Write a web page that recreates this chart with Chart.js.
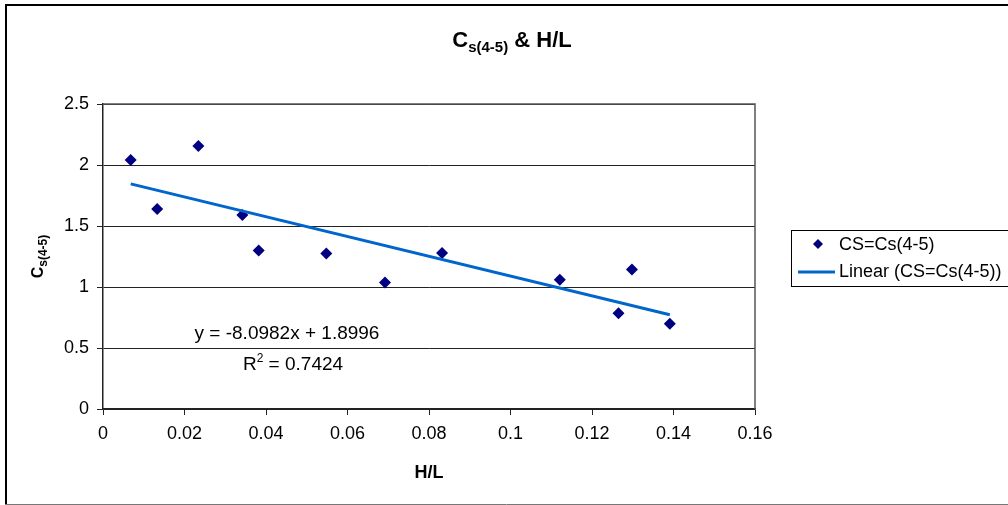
<!DOCTYPE html>
<html>
<head>
<meta charset="utf-8">
<script src="https://cdn.jsdelivr.net/npm/chart.js@4.4.1/dist/chart.umd.min.js"></script>
<style>
  html, body { margin: 0; padding: 0; background: #fff; }
</style>
</head>
<body>
<canvas id="cs-chart" width="1008" height="505"></canvas>
<script>
// values
const hlValues = [0.0068, 0.0133, 0.0234, 0.0342, 0.0382, 0.0548, 0.0692, 0.0832, 0.1121, 0.1265, 0.1298, 0.1391];
const csValues = [2.04, 1.64, 2.155, 1.59, 1.30, 1.275, 1.036, 1.278, 1.06, 0.785, 1.144, 0.699];

// trendline end points (y = -8.0982x + 1.8996)
const trendX = [0.0068, 0.1391];
const trendY = [1.845, 0.773];

const seriesName = 'CS=Cs(4-5)';
const trendName = 'Linear (CS=Cs(4-5))';
const eqText = 'y = -8.0982x + 1.8996';
const r2Value = '0.7424';

const FONT = '"Liberation Sans", Arial, sans-serif';
const pointColor = '#000080';
const lineColor = 'rgb(0, 102, 204)';

// draws text pieces in a row, each with own font and vertical offset
function drawParts(ctx, parts, x, y, align) {
    let total = 0;
    parts.forEach(p => { ctx.font = p.font; p.w = ctx.measureText(p.t).width; total += p.w; });
    let cx = align === 'center' ? x - total / 2 : x;
    ctx.textAlign = 'left';
    ctx.textBaseline = 'alphabetic';
    parts.forEach(p => {
        ctx.font = p.font;
        ctx.fillText(p.t, cx, y + (p.dy || 0));
        cx += p.w;
    });
}

const decorPlugin = {
    id: 'decor',
    afterDraw(chart) {
        const ctx = chart.ctx;
        const { left, right, top, bottom } = chart.chartArea;
        ctx.save();

        // plot area border (top + right)
        ctx.strokeStyle = '#555';
        ctx.lineWidth = 1.5;
        ctx.beginPath();
        ctx.moveTo(left, top);
        ctx.lineTo(right, top);
        ctx.lineTo(right, bottom);
        ctx.stroke();

        // outer chart border
        ctx.strokeStyle = '#000';
        ctx.lineWidth = 2;
        ctx.beginPath();
        ctx.moveTo(6, 505);
        ctx.lineTo(6, 5);
        ctx.lineTo(1010, 5);
        ctx.stroke();
        ctx.strokeStyle = '#777';
        ctx.lineWidth = 1;
        ctx.beginPath();
        ctx.moveTo(5, 504.5);
        ctx.lineTo(1008, 504.5);
        ctx.stroke();

        ctx.fillStyle = '#000';

        // title
        drawParts(ctx, [
            { t: 'C', font: 'bold 22px ' + FONT },
            { t: 's(4-5)', font: 'bold 15px ' + FONT, dy: 5 },
            { t: ' & H/L', font: 'bold 22px ' + FONT }
        ], 512, 47, 'center');

        // x axis title
        ctx.font = 'bold 18px ' + FONT;
        ctx.textAlign = 'center';
        ctx.fillText('H/L', (left + right) / 2, 478);

        // y axis title (rotated)
        ctx.save();
        ctx.translate(43, (top + bottom) / 2);
        ctx.rotate(-Math.PI / 2);
        drawParts(ctx, [
            { t: 'C', font: 'bold 16px ' + FONT },
            { t: 's(4-5)', font: 'bold 12px ' + FONT, dy: 4 }
        ], 0, 0, 'center');
        ctx.restore();

        // trendline equation
        ctx.font = '19px ' + FONT;
        ctx.textAlign = 'center';
        ctx.textBaseline = 'alphabetic';
        ctx.fillText(eqText, 287, 339);
        drawParts(ctx, [
            { t: 'R', font: '19px ' + FONT },
            { t: '2', font: '12px ' + FONT, dy: -8 },
            { t: ' = ' + r2Value, font: '19px ' + FONT }
        ], 293, 370, 'center');

        // legend box
        ctx.strokeStyle = '#000';
        ctx.lineWidth = 1;
        ctx.strokeRect(791.5, 230.5, 240, 56);
        // diamond marker
        ctx.fillStyle = pointColor;
        ctx.beginPath();
        ctx.moveTo(818, 239);
        ctx.lineTo(823, 244);
        ctx.lineTo(818, 249);
        ctx.lineTo(813, 244);
        ctx.closePath();
        ctx.fill();
        // line sample
        ctx.strokeStyle = lineColor;
        ctx.lineWidth = 3;
        ctx.beginPath();
        ctx.moveTo(798, 272);
        ctx.lineTo(835, 272);
        ctx.stroke();
        ctx.fillStyle = '#000';
        ctx.font = '18px ' + FONT;
        ctx.textAlign = 'left';
        ctx.textBaseline = 'middle';
        ctx.fillText(seriesName, 839, 245);
        ctx.fillText(trendName, 839, 272);

        ctx.restore();
    }
};

const fmt = v => String(+Number(v).toFixed(2));

new Chart(document.getElementById('cs-chart'), {
    type: 'scatter',
    data: {
        datasets: [
            {
                label: trendName,
                data: trendX.map((x, i) => ({ x: x, y: trendY[i] })),
                showLine: true,
                borderColor: lineColor,
                borderWidth: 3,
                pointRadius: 0,
                fill: false
            },
            {
                label: seriesName,
                data: hlValues.map((x, i) => ({ x: x, y: csValues[i] })),
                pointStyle: 'rectRot',
                pointRadius: 6,
                backgroundColor: pointColor,
                borderColor: pointColor,
                borderWidth: 0
            }
        ]
    },
    options: {
        responsive: false,
        animation: false,
        layout: { padding: { left: 43, right: 253, top: 104, bottom: 55 } },
        plugins: {
            legend: { display: false },
            title: { display: false },
            tooltip: { enabled: false }
        },
        scales: {
            x: {
                type: 'linear',
                min: 0,
                max: 0.16,
                afterFit: s => { s.height = 41; },
                ticks: { stepSize: 0.02, callback: fmt, color: '#000', font: { size: 18, family: FONT }, padding: 8, maxRotation: 0 },
                grid: { drawOnChartArea: false, tickLength: 6, color: '#222' },
                border: { color: '#222', width: 1.5 }
            },
            y: {
                min: 0,
                max: 2.5,
                afterFit: s => { s.width = 60; },
                ticks: { stepSize: 0.5, callback: fmt, color: '#000', font: { size: 18, family: FONT }, padding: 8 },
                grid: { color: '#222', tickLength: 6 },
                border: { color: '#222', width: 1.5 }
            }
        }
    },
    plugins: [decorPlugin]
});
</script>
</body>
</html>
